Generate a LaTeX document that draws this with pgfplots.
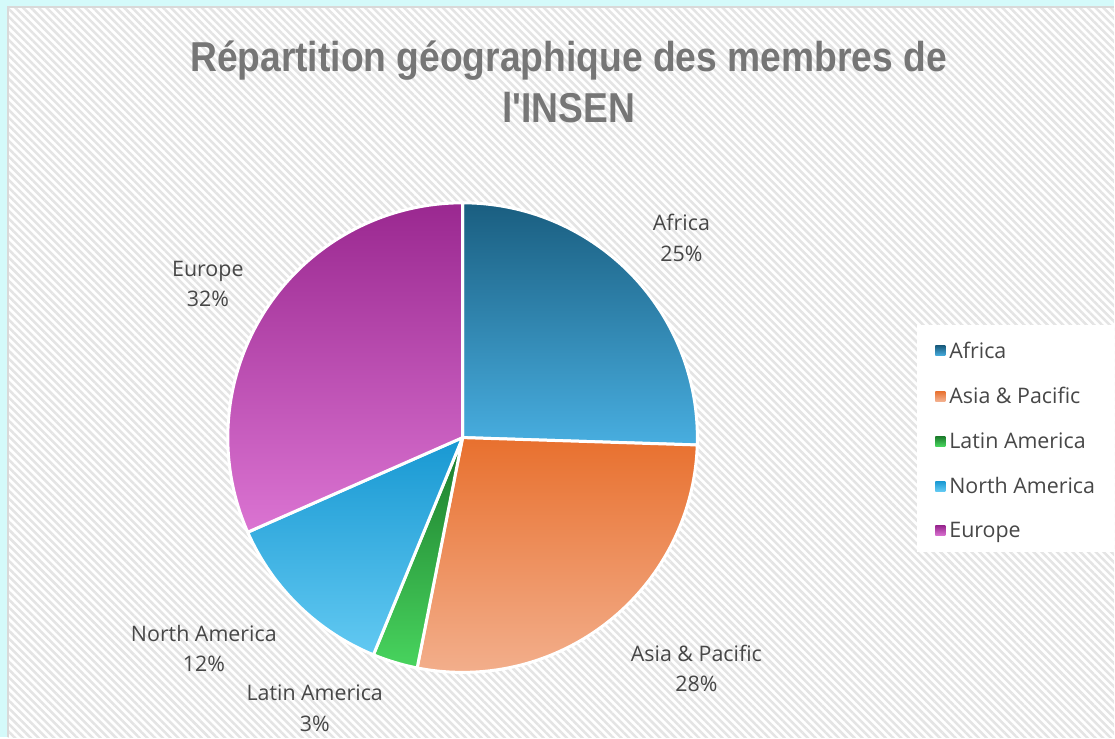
\documentclass[border=0pt]{standalone}
\usepackage{pgfplots}
\pgfplotsset{compat=1.18}
\usetikzlibrary{patterns.meta}
\usepackage{fontspec}
\setmainfont{Open Sans}
\newfontfamily\titlefont[FakeStretch=0.89]{Liberation Sans}
\definecolor{afT}{HTML}{1A5E80}\definecolor{afB}{HTML}{48AEE0}
\definecolor{asT}{HTML}{E8702E}\definecolor{asB}{HTML}{F3B08E}
\definecolor{laT}{HTML}{1B7A2B}\definecolor{laB}{HTML}{48D45E}
\definecolor{naT}{HTML}{1898D2}\definecolor{naB}{HTML}{62C9F2}
\definecolor{euT}{HTML}{9A2890}\definecolor{euB}{HTML}{DB74D2}
\definecolor{bgcyan}{HTML}{D4FAFA}
\definecolor{bordergray}{HTML}{D9D9D9}
\definecolor{hatch}{HTML}{E4E4E4}
\definecolor{txt}{HTML}{474747}
\definecolor{ttl}{HTML}{767676}
% slice: cumulative percent before, value percent, top colour, bottom colour
\newcommand\slice[4]{%
  \path[top color=#3,bottom color=#4,draw=white,line width=3bp,line join=round]
    (axis cs:463,300) -- ++({90-3.6*#1}:235bp)
    arc[start angle={90-3.6*#1}, end angle={90-3.6*(#1+#2)}, radius=235bp] -- cycle;}
\begin{document}
\begin{tikzpicture}
\begin{axis}[x=1bp,y=1bp,xmin=0,xmax=1115,ymin=0,ymax=738,
  hide axis,scale only axis,clip=false,
  legend style={at={(axis cs:936,398)},anchor=north west,draw=none,fill=none,
    font=\fontsize{21.5}{25}\selectfont,text=txt,row sep=23.5bp,
    inner xsep=0bp,inner ysep=0bp,cells={anchor=west},
    /tikz/every odd column/.append style={column sep=2bp}},
  legend image code/.code={\path[#1] (4bp,-5bp) rectangle (14bp,5bp);}]
\fill[bgcyan] (axis cs:0,0) rectangle (axis cs:1115,738);
\fill[white] (axis cs:8,0) rectangle (axis cs:1115,731);
\fill[pattern={Lines[angle=-45,distance=5.5bp,line width=2.5bp]},pattern color=hatch]
  (axis cs:8,0) rectangle (axis cs:1115,731);
\draw[bordergray,line width=2bp] (axis cs:8,0) -- (axis cs:8,731) -- (axis cs:1115,731);
\fill[white] (axis cs:918,185) rectangle (axis cs:1115,413);
% values (percent): Africa 25.5, Asia & Pacific 27.6, Latin America 3.1, North America 12.2, Europe 31.6
\slice{0}{25.5}{afT}{afB}
\slice{25.5}{27.6}{asT}{asB}
\slice{53.1}{3.1}{laT}{laB}
\slice{56.2}{12.2}{naT}{naB}
\slice{68.4}{31.6}{euT}{euB}
\addlegendimage{draw=none,top color=afT,bottom color=afB}\addlegendentry{Africa}
\addlegendimage{draw=none,top color=asT,bottom color=asB}\addlegendentry{Asia \& Pacific}
\addlegendimage{draw=none,top color=laT,bottom color=laB}\addlegendentry{Latin America}
\addlegendimage{draw=none,top color=naT,bottom color=naB}\addlegendentry{North America}
\addlegendimage{draw=none,top color=euT,bottom color=euB}\addlegendentry{Europe}
\node[text=ttl,font=\titlefont\bfseries\fontsize{42}{52}\selectfont,align=center,anchor=center]
  at (axis cs:569,656) {Répartition géographique des membres de\\l'INSEN};
\begin{scope}[every node/.style={text=txt,font=\fontsize{21.5}{30.5}\selectfont,align=center}]
\node at (axis cs:682,500) {Africa\\25\%};
\node at (axis cs:697,69) {Asia \& Pacific\\28\%};
\node at (axis cs:315,29) {Latin America\\3\%};
\node at (axis cs:204,89) {North America\\12\%};
\node at (axis cs:208,454) {Europe\\32\%};
\end{scope}
\end{axis}
\end{tikzpicture}
\end{document}
